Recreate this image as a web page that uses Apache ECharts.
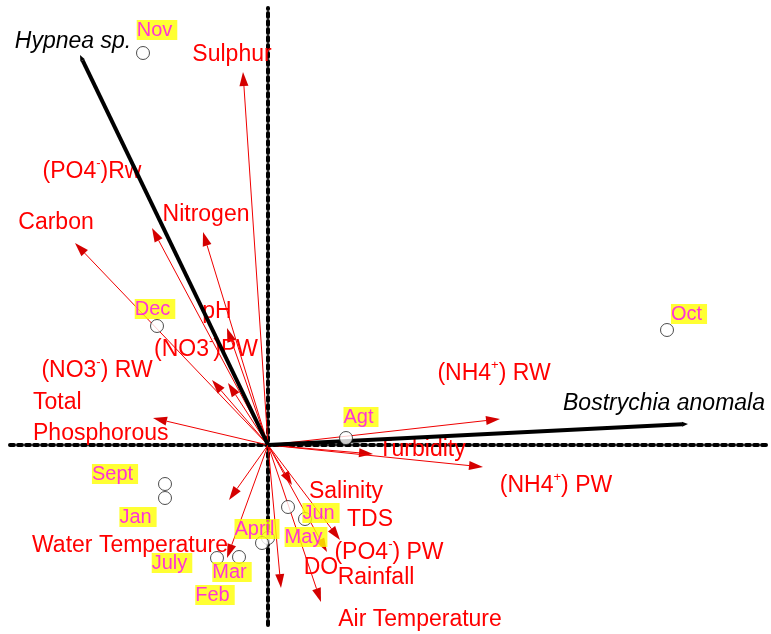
<!DOCTYPE html>
<html>
<head>
<meta charset="utf-8">
<title>CCA biplot</title>
<script src="https://cdn.jsdelivr.net/npm/echarts@6/dist/echarts.min.js"></script>
<style>
  html, body { margin: 0; padding: 0; background: #fff; }
  #chart { width: 771px; height: 634px; }
</style>
</head>
<body>
<div id="chart"></div>
<script>
// site scores (months)
const siteNames = ['Nov', 'Oct', 'Dec', 'Agt', 'Sept', 'Jan', 'Jun', 'May', 'April', 'Feb', 'July', 'Mar'];
const siteX = [-0.625, 1.995, -0.555, 0.39, -0.515, -0.515, 0.10, 0.185, 0.0, -0.03, -0.255, -0.145];
const siteY = [1.96, 0.575, 0.595, 0.035, -0.195, -0.265, -0.31, -0.37, -0.465, -0.49, -0.565, -0.56];

// species scores
const speciesNames = ['Hypnea sp.', 'Bostrychia anomala'];
const speciesX = [-0.94, 2.10];
const speciesY = [1.95, 0.105];

// environmental variables (arrow tips)
const envNames = ['Sulphur', '(PO4-)Rw', 'Carbon', 'Nitrogen', 'pH', '(NO3-)PW', '(NO3-) RW',
  'Total\nPhosphorous', '(NH4+) RW', 'Turbidity', '(NH4+) PW', 'Salinity', 'TDS', '(PO4-) PW',
  'DO', 'Rainfall', 'Air Temperature', 'Water Temperature'];
const envX = [-0.125, -0.58, -0.965, -0.325, -0.205, -0.20, -0.28, -0.575, 1.16, 0.525, 1.075,
  0.12, 0.36, 0.295, 0.065, -0.195, 0.265, -0.205];
const envY = [1.865, 1.085, 1.01, 1.065, 0.585, 0.31, 0.325, 0.135, 0.13, -0.045, -0.11,
  -0.20, -0.475, -0.535, -0.715, -0.275, -0.785, -0.565];

// label placement (pixels from the point)
const siteLabelOffset = [[14, -23], [22, -16], [-2, -17], [15, -21], [-50, -10], [-27, 19],
  [33, 6], [1, 18], [-11, -9], [-47, 52], [-45, 5], [-7, 15]];
const speciesLabelOffset = [[-7, -13], [-24, -20]];
const envLabelOffset = [[-11, -17], [-60, -56], [-19, -20], [3, -17], [-10, -16], [-22, -33],
  [-115, -9], [-120, 0], [-6, -45], [49, -4], [73, 19], [54, 7], [30, -20], [62, 1],
  [40, -20], [147, 78], [99, 18], [-97, -12]];

const FONT = '"Liberation Sans", Arial, sans-serif';

function richName(name) {
  return name.replace(/([+-])\)/, '{sup|$1})');
}

function arrowHead(tip, from, len, half) {
  const dx = tip[0] - from[0], dy = tip[1] - from[1];
  const d = Math.hypot(dx, dy) || 1;
  const ux = dx / d, uy = dy / d;
  const bx = tip[0] - ux * len, by = tip[1] - uy * len;
  return { base: [bx, by], pts: [tip, [bx - uy * half, by + ux * half], [bx + uy * half, by - ux * half]] };
}

const chart = echarts.init(document.getElementById('chart'));

const dotted = { color: '#000', width: 4, type: [4, 4] };

const option = {
  animation: false,
  backgroundColor: '#fff',
  grid: { left: 10, right: 3, top: 8, bottom: 9 },
  xAxis: {
    type: 'value', min: -1.29, max: 2.5,
    axisLine: { show: true, onZero: true, lineStyle: dotted },
    axisTick: { show: false }, axisLabel: { show: false }, splitLine: { show: false }
  },
  yAxis: {
    type: 'value', min: -0.90, max: 2.185,
    axisLine: { show: true, onZero: true, lineStyle: dotted },
    axisTick: { show: false }, axisLabel: { show: false }, splitLine: { show: false }
  },
  series: [
    {
      // environmental arrows
      type: 'custom',
      clip: false,
      z: 3,
      data: envX.map((x, i) => [x, envY[i]]),
      encode: { x: 0, y: 1 },
      renderItem: function (params, api) {
        const i = params.dataIndex;
        const o = api.coord([0, 0]);
        const t = api.coord([api.value(0), api.value(1)]);
        const h = arrowHead(t, o, 14, 4.5);
        const off = envLabelOffset[i];
        const multi = envNames[i].indexOf('\n') >= 0;
        return {
          type: 'group',
          children: [
            { type: 'line', shape: { x1: o[0], y1: o[1], x2: h.base[0], y2: h.base[1] },
              style: { stroke: '#f00000', lineWidth: 1 } },
            { type: 'polygon', shape: { points: h.pts }, style: { fill: '#d40000' } },
            { type: 'text', x: t[0] + off[0], y: t[1] + off[1], z2: 10,
              style: {
                text: richName(envNames[i]), fill: '#ff0000',
                fontSize: 23, fontFamily: FONT, lineHeight: 31,
                align: multi ? 'left' : 'center', verticalAlign: 'middle',
                rich: { sup: { fontSize: 13, fill: '#ff0000', fontFamily: FONT, verticalAlign: 'top', lineHeight: 14 } }
              } }
          ]
        };
      }
    },
    {
      // species lines
      type: 'custom',
      clip: false,
      z: 4,
      data: speciesX.map((x, i) => [x, speciesY[i]]),
      encode: { x: 0, y: 1 },
      renderItem: function (params, api) {
        const i = params.dataIndex;
        const o = api.coord([0, 0]);
        const t = api.coord([api.value(0), api.value(1)]);
        const h = arrowHead(t, o, 6, 2.5);
        const off = speciesLabelOffset[i];
        return {
          type: 'group',
          children: [
            { type: 'line', shape: { x1: o[0], y1: o[1], x2: h.base[0], y2: h.base[1] },
              style: { stroke: '#000', lineWidth: 4 } },
            { type: 'polygon', shape: { points: h.pts }, style: { fill: '#000' } },
            { type: 'text', x: t[0] + off[0], y: t[1] + off[1],
              style: {
                text: speciesNames[i], fill: '#000', fontSize: 23, fontStyle: 'italic',
                fontFamily: FONT, align: 'center', verticalAlign: 'middle'
              } }
          ]
        };
      }
    },
    {
      // sites
      type: 'scatter',
      z: 5,
      symbol: 'circle',
      symbolSize: 13,
      itemStyle: { color: '#fff', borderColor: '#222', borderWidth: 1 },
      data: siteNames.map((n, i) => ({
        name: n,
        value: [siteX[i], siteY[i]],
        label: { offset: siteLabelOffset[i] }
      })),
      label: {
        show: true,
        position: 'inside',
        formatter: '{b}',
        color: '#ff00ff',
        fontSize: 20,
        lineHeight: 20,
        fontFamily: FONT,
        backgroundColor: '#ffff00',
        padding: [0, 5, 0, 0]
      }
    }
  ]
};

chart.setOption(option);
</script>
</body>
</html>
